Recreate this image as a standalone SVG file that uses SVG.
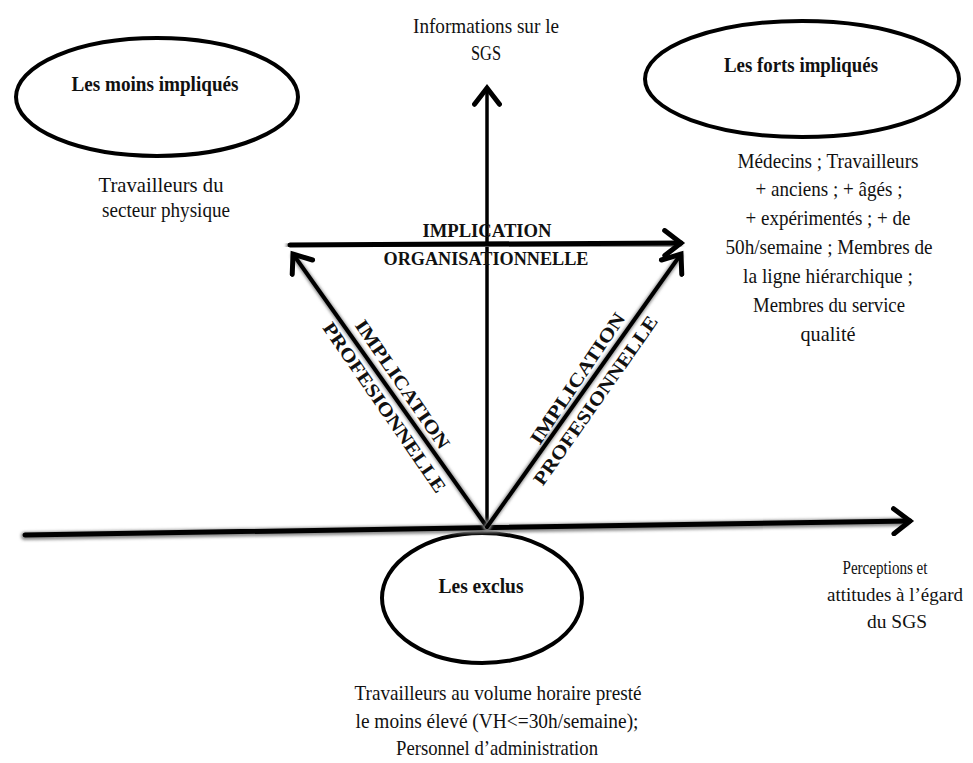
<svg xmlns="http://www.w3.org/2000/svg" width="973" height="763" viewBox="0 0 973 763">
  <style>
    .t { font-family: "Liberation Serif", "DejaVu Serif", serif; font-size: 22px; font-weight: normal; fill: #111; text-anchor: middle; }
    .b { font-weight: bold; font-size: 20px; }
    .cap { font-size: 19px; font-weight: bold; }
    .edge { font-size: 19px; }
    .node { fill: #fff; stroke: #000; stroke-width: 4; }
    .axis { fill: none; stroke: #000; stroke-linecap: round; }
    .halo { fill: none; stroke: #8a8a8a; stroke-linecap: round; filter: url(#soft); }
  </style>
  <defs>
    <filter id="soft" x="-10%" y="-50%" width="120%" height="200%">
      <feGaussianBlur stdDeviation="1.6"/>
    </filter>
    <marker id="head" markerUnits="userSpaceOnUse" markerWidth="30" markerHeight="30" refX="0" refY="0" viewBox="-16 -12 20 24" orient="auto">
      <path d="M-13,-10 L0,0 L-13,10" fill="none" stroke="#000" stroke-width="4" stroke-linejoin="miter" stroke-linecap="round"/>
    </marker>
  </defs>

  <rect width="973" height="763" fill="#fff"/>

  <!-- outline bubbles for the three groups -->
  <g id="moins-impliques">
    <ellipse class="node" cx="157" cy="97" rx="141" ry="59"/>
    <text class="t b" x="155" y="91" textLength="167" lengthAdjust="spacingAndGlyphs">Les moins impliqués</text>
    <text class="t" x="161" y="192" textLength="125" lengthAdjust="spacingAndGlyphs">Travailleurs du</text>
    <text class="t" x="166" y="217" textLength="128" lengthAdjust="spacingAndGlyphs">secteur physique</text>
  </g>

  <g id="forts-impliques">
    <ellipse class="node" cx="802" cy="79" rx="157" ry="58"/>
    <text class="t b" x="801" y="72" textLength="154" lengthAdjust="spacingAndGlyphs">Les forts impliqués</text>
    <text class="t" x="828" y="168" textLength="181" lengthAdjust="spacingAndGlyphs">Médecins ; Travailleurs</text>
    <text class="t" x="829" y="196" textLength="147" lengthAdjust="spacingAndGlyphs">+ anciens ; + âgés ;</text>
    <text class="t" x="828" y="225" textLength="165" lengthAdjust="spacingAndGlyphs">+ expérimentés ; + de</text>
    <text class="t" x="829" y="254" textLength="207" lengthAdjust="spacingAndGlyphs">50h/semaine ; Membres de</text>
    <text class="t" x="828" y="283" textLength="170" lengthAdjust="spacingAndGlyphs">la ligne  hiérarchique ;</text>
    <text class="t" x="829" y="312" textLength="152" lengthAdjust="spacingAndGlyphs">Membres du service</text>
    <text class="t" x="828" y="341" textLength="55" lengthAdjust="spacingAndGlyphs">qualité</text>
  </g>

  <g id="exclus">
    <ellipse class="node" cx="482" cy="598" rx="100" ry="65"/>
    <text class="t b" x="481" y="593" textLength="85" lengthAdjust="spacingAndGlyphs">Les exclus</text>
    <text class="t" x="498" y="700" textLength="287" lengthAdjust="spacingAndGlyphs">Travailleurs au volume horaire presté</text>
    <text class="t" x="497" y="728" textLength="283" lengthAdjust="spacingAndGlyphs">le moins élevé (VH&lt;=30h/semaine);</text>
    <text class="t" x="497" y="755" textLength="202" lengthAdjust="spacingAndGlyphs">Personnel d’administration</text>
  </g>

  <!-- axes and implication arrows -->
  <g id="connectors">
    <line class="halo" x1="25" y1="536" x2="905" y2="522" stroke-width="8"/>
    <line class="axis" x1="25" y1="535" x2="910" y2="521" stroke-width="5" marker-end="url(#head)"/>
    <line class="axis" x1="487" y1="527" x2="487" y2="88" stroke-width="3.5" marker-end="url(#head)"/>
    <line class="halo" x1="290" y1="246" x2="678" y2="244" stroke-width="8"/>
    <line class="axis" x1="290" y1="245" x2="681" y2="243" stroke-width="5" marker-end="url(#head)"/>
    <line class="halo" x1="487" y1="527" x2="294" y2="256" stroke-width="6"/>
    <line class="axis" x1="487" y1="527" x2="293" y2="254" stroke-width="4" marker-end="url(#head)"/>
    <line class="halo" x1="487" y1="527" x2="680" y2="256" stroke-width="6"/>
    <line class="axis" x1="487" y1="527" x2="681" y2="254" stroke-width="4" marker-end="url(#head)"/>
  </g>

  <!-- axis captions -->
  <g id="labels">
    <text class="t" x="486" y="33" textLength="146" lengthAdjust="spacingAndGlyphs">Informations sur le</text>
    <text class="t" x="486" y="60" textLength="30" lengthAdjust="spacingAndGlyphs">SGS</text>
    <text class="t edge" x="885" y="574" textLength="85" lengthAdjust="spacingAndGlyphs">Perceptions et</text>
    <text class="t edge" x="895" y="601" textLength="136" lengthAdjust="spacingAndGlyphs">attitudes à l’égard</text>
    <text class="t edge" x="897" y="628" textLength="60" lengthAdjust="spacingAndGlyphs">du SGS</text>
    <text class="t cap" x="487" y="237" textLength="129" lengthAdjust="spacingAndGlyphs">IMPLICATION</text>
    <text class="t cap" x="486" y="265" textLength="205" lengthAdjust="spacingAndGlyphs">ORGANISATIONNELLE</text>
    <g transform="translate(403,384) rotate(55.5)">
      <text class="t cap" x="0" y="7" textLength="152" lengthAdjust="spacingAndGlyphs">IMPLICATION</text>
    </g>
    <g transform="translate(385,407) rotate(55.5)">
      <text class="t cap" x="0" y="7" textLength="202" lengthAdjust="spacingAndGlyphs">PROFESIONNELLE</text>
    </g>
    <g transform="translate(577,378) rotate(-56)">
      <text class="t cap" x="0" y="7" textLength="154" lengthAdjust="spacingAndGlyphs">IMPLICATION</text>
    </g>
    <g transform="translate(595,400) rotate(-55)">
      <text class="t cap" x="0" y="7" textLength="202" lengthAdjust="spacingAndGlyphs">PROFESIONNELLE</text>
    </g>
  </g>
</svg>
